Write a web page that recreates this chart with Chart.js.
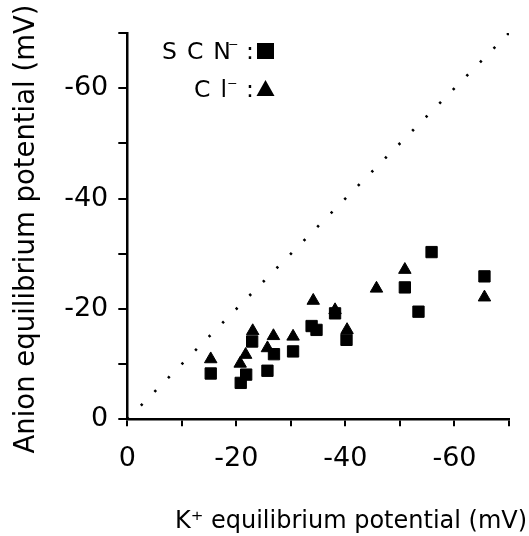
<!DOCTYPE html>
<html>
<head>
<meta charset="utf-8">
<script src="https://cdn.jsdelivr.net/npm/chart.js@4/dist/chart.umd.min.js"></script>
<style>
  html, body { margin: 0; padding: 0; background: #fff; }
  #wrap { width: 529px; height: 536px; }
</style>
</head>
<body>
<div id="wrap"><canvas id="chart"></canvas></div>
<script>
// SCN- : K+ equilibrium potential vs anion equilibrium potential (mV)
const scnK = [-15.3, -20.8, -21.8, -22.9, -25.7, -26.9, -30.4, -33.8, -34.7, -38.1, -40.2, -50.9, -53.4, -55.8, -65.5]
const scnAnion = [-8.3, -6.6, -8.1, -14.1, -8.8, -11.8, -12.3, -16.9, -16.2, -19.2, -14.4, -23.9, -19.5, -30.3, -25.9]
// Cl-
const clK = [-15.3, -20.7, -21.7, -23.0, -25.7, -26.8, -30.4, -34.1, -38.1, -40.3, -45.7, -50.9, -65.5]
const clAnion = [-10.9, -10.1, -11.7, -16.0, -12.9, -15.1, -15.0, -21.5, -19.8, -16.2, -23.7, -27.1, -22.1]
// dotted line of identity
const identity = [0, -70]
const labelledTicks = [0, -20, -40, -60]

const FONT = '"DejaVu Sans", sans-serif'

function toPoints(xs, ys) {
  return xs.map((x, i) => ({ x: x, y: ys[i] }))
}

const tickCallback = (v) => (labelledTicks.includes(v) ? String(v) : '')

// axis titles + the little key in the upper left
const textPlugin = {
  id: 'axisText',
  afterDraw(chart) {
    const ctx = chart.ctx
    const spacing = (px) => { if ('letterSpacing' in ctx) ctx.letterSpacing = px }
    ctx.save()
    ctx.fillStyle = '#000'
    ctx.textBaseline = 'alphabetic'
    ctx.textAlign = 'center'
    ctx.font = '24px ' + FONT
    ctx.fillText('K⁺ equilibrium potential (mV)', 351, 528)

    ctx.save()
    ctx.translate(34, 229)
    ctx.rotate(-Math.PI / 2)
    ctx.font = '27.5px ' + FONT
    ctx.fillText('Anion equilibrium potential (mV)', 0, 0)
    ctx.restore()

    // key
    ctx.textAlign = 'left'
    ctx.font = '23.5px ' + FONT
    spacing('10px')
    ctx.fillText('SCN', 162, 58.5)
    ctx.fillText('Cl', 194, 97)
    spacing('0px')
    ctx.font = '20px ' + FONT
    ctx.fillText('⁻', 228, 55)
    ctx.fillText('⁻', 227, 94)
    ctx.font = '23.5px ' + FONT
    ctx.fillText(':', 246, 58.5)
    ctx.fillText(':', 246, 97)
    ctx.fillRect(257, 43, 17, 16)
    ctx.beginPath()
    ctx.moveTo(265.5, 80)
    ctx.lineTo(274.5, 96)
    ctx.lineTo(256.5, 96)
    ctx.closePath()
    ctx.fill()
    ctx.restore()
  },
}

new Chart(document.getElementById('chart'), {
  type: 'scatter',
  data: {
    datasets: [
      {
        label: 'SCN⁻',
        data: toPoints(scnK, scnAnion),
        pointStyle: 'rect',
        pointRadius: 8,
        borderWidth: 1,
        backgroundColor: '#000',
        borderColor: '#000',
      },
      {
        label: 'Cl⁻',
        data: toPoints(clK, clAnion),
        pointStyle: 'triangle',
        pointRadius: 7.2,
        borderWidth: 1,
        backgroundColor: '#000',
        borderColor: '#000',
      },
      {
        label: 'identity',
        type: 'line',
        data: toPoints(identity, identity),
        showLine: true,
        borderColor: '#000',
        borderWidth: 2.6,
        borderDash: [2.4, 16.9],
        pointRadius: 0,
        fill: false,
      },
    ],
  },
  options: {
    responsive: true,
    maintainAspectRatio: false,
    animation: false,
    layout: { padding: { top: 33, right: 20, left: 0, bottom: 0 } },
    plugins: { legend: { display: false }, tooltip: { enabled: false } },
    scales: {
      x: {
        type: 'linear',
        min: -70,
        max: 0,
        reverse: true,
        afterFit: (scale) => { scale.height = 116.7 },
        border: { display: true, color: '#000', width: 2.5 },
        grid: { drawOnChartArea: false, drawTicks: true, tickLength: 7, color: '#000', lineWidth: 2 },
        ticks: {
          stepSize: 10,
          autoSkip: false,
          maxRotation: 0,
          padding: 16,
          color: '#000',
          font: { family: FONT, size: 27 },
          callback: tickCallback,
        },
      },
      y: {
        type: 'linear',
        min: -70,
        max: 0,
        reverse: true,
        afterFit: (scale) => { scale.width = 127.3 },
        border: { display: true, color: '#000', width: 2.5 },
        grid: { drawOnChartArea: false, drawTicks: true, tickLength: 9, color: '#000', lineWidth: 2 },
        ticks: {
          stepSize: 10,
          autoSkip: false,
          padding: 10,
          color: '#000',
          font: { family: FONT, size: 27 },
          callback: tickCallback,
        },
      },
    },
  },
  plugins: [textPlugin],
})
</script>
</body>
</html>
